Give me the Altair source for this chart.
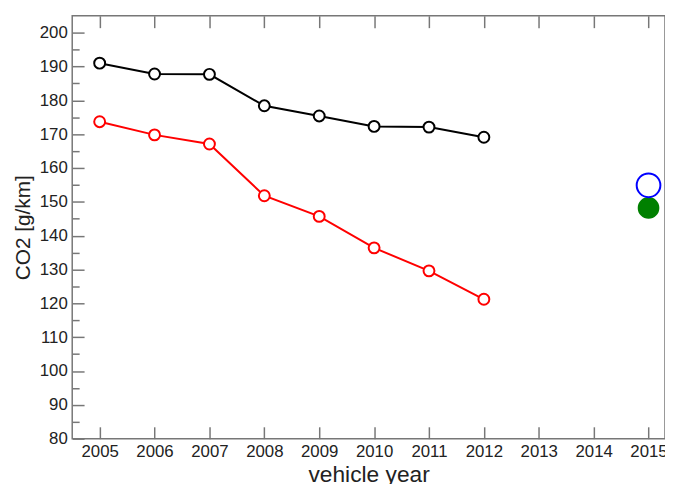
import altair as alt
import pandas as pd

# ---- data ----
years = [2005, 2006, 2007, 2008, 2009, 2010, 2011, 2012]
type_approval = [173.7, 169.8, 167.1, 151.8, 145.7, 136.4, 129.6, 121.2]
real_world = [191.0, 187.8, 187.7, 178.4, 175.4, 172.3, 172.1, 169.1]
estimate_year = [2015]
underlying_current = [148.2]
current_best = [154.9]

series_names = ["type-approval value", "real-world (Travelcard study)",
                "underlying current study", "current best estimate"]
stroke_colors = ["#ff0000", "#000000", "#008000", "#0000ff"]
fill_colors = ["#ffffff", "#ffffff", "#008000", "#ffffff"]


def circle_path(r):
    return (f"M {-r} 0 A {r} {r} 0 1 0 {r} 0 "
            f"A {r} {r} 0 1 0 {-r} 0 Z")


# relative marker radii (1 = full symbol size)
marker_shapes = [circle_path(0.46), circle_path(0.46),
                 circle_path(0.83), circle_path(1.0)]
MARKER_SIZE = 576

x_ticks = list(range(2005, 2016))
y_major = list(range(80, 201, 10))
y_minor = list(range(85, 200, 10))

# ---- tables ----
rows_lines = []
for y, v in zip(years, type_approval):
    rows_lines.append({"year": y, "co2": v, "series": series_names[0]})
for y, v in zip(years, real_world):
    rows_lines.append({"year": y, "co2": v, "series": series_names[1]})
df_lines = pd.DataFrame(rows_lines)

rows_points = list(rows_lines)
for y, v in zip(estimate_year, underlying_current):
    rows_points.append({"year": y, "co2": v, "series": series_names[2]})
for y, v in zip(estimate_year, current_best):
    rows_points.append({"year": y, "co2": v, "series": series_names[3]})
df_points = pd.DataFrame(rows_points)

xscale = alt.Scale(domain=[2004.5, 2015.3], nice=False, zero=False)
yscale = alt.Scale(domain=[80, 205], nice=False, zero=False)

FONT = "Liberation Sans"

lines = alt.Chart(df_lines).mark_line(strokeWidth=2).encode(
    x=alt.X("year:Q", scale=xscale,
            axis=alt.Axis(values=x_ticks, format="d", title="vehicle year",
                          orient="bottom", offset=-12, tickSize=12,
                          domain=False, grid=False, labelPadding=5,
                          labelFontSize=17, titleFontSize=23, titlePadding=4,
                          titleFontWeight="normal")),
    y=alt.Y("co2:Q", scale=yscale,
            axis=alt.Axis(values=y_major, format="d", title="CO2 [g/km]",
                          orient="left", offset=-12, tickSize=12,
                          domain=False, grid=False, labelPadding=5,
                          labelFontSize=17, titleFontSize=21, titlePadding=6,
                          titleFontWeight="normal")),
    color=alt.Color("series:N",
                    scale=alt.Scale(domain=series_names, range=stroke_colors),
                    legend=None),
)

points = alt.Chart(df_points).mark_point(
    strokeWidth=2, opacity=1, size=MARKER_SIZE
).encode(
    x=alt.X("year:Q", scale=xscale,
            axis=alt.Axis(values=x_ticks, orient="top", labels=False,
                          title=None, offset=-12, tickSize=12,
                          domain=False, grid=False)),
    y=alt.Y("co2:Q", scale=yscale,
            axis=alt.Axis(values=y_minor, orient="left", labels=False,
                          title=None, offset=-7, tickSize=7,
                          domain=False, grid=False)),
    stroke=alt.Stroke("series:N",
                      scale=alt.Scale(domain=series_names, range=stroke_colors),
                      legend=alt.Legend(
                          title=None, orient="bottom-left",
                          labelFontSize=21, labelLimit=400, labelOffset=5,
                          rowPadding=4, symbolSize=130, symbolStrokeWidth=2,
                          symbolFillColor="white",
                          strokeColor="#777777", fillColor="#ffffff",
                          padding=5)),
    fill=alt.Fill("series:N",
                  scale=alt.Scale(domain=series_names, range=fill_colors),
                  legend=None),
    shape=alt.Shape("series:N",
                    scale=alt.Scale(domain=series_names, range=marker_shapes),
                    legend=None),
)

chart = alt.layer(lines, points).resolve_scale(
    x="shared", y="shared"
).resolve_axis(
    x="independent", y="independent"
).properties(
    width=600, height=428,
    autosize=alt.AutoSizeParams(type="none"),
    padding={"left": 65, "top": 5, "right": 0, "bottom": 43},
).configure(
    font=FONT,
).configure_view(
    stroke="#777777", strokeWidth=1.5,
).configure_axis(
    tickColor="#777777", tickWidth=1.5, labelColor="#222222",
    titleColor="#222222", labelFont=FONT, titleFont=FONT,
)

chart.save("out.html", embed_options={"renderer": "svg", "actions": False})
